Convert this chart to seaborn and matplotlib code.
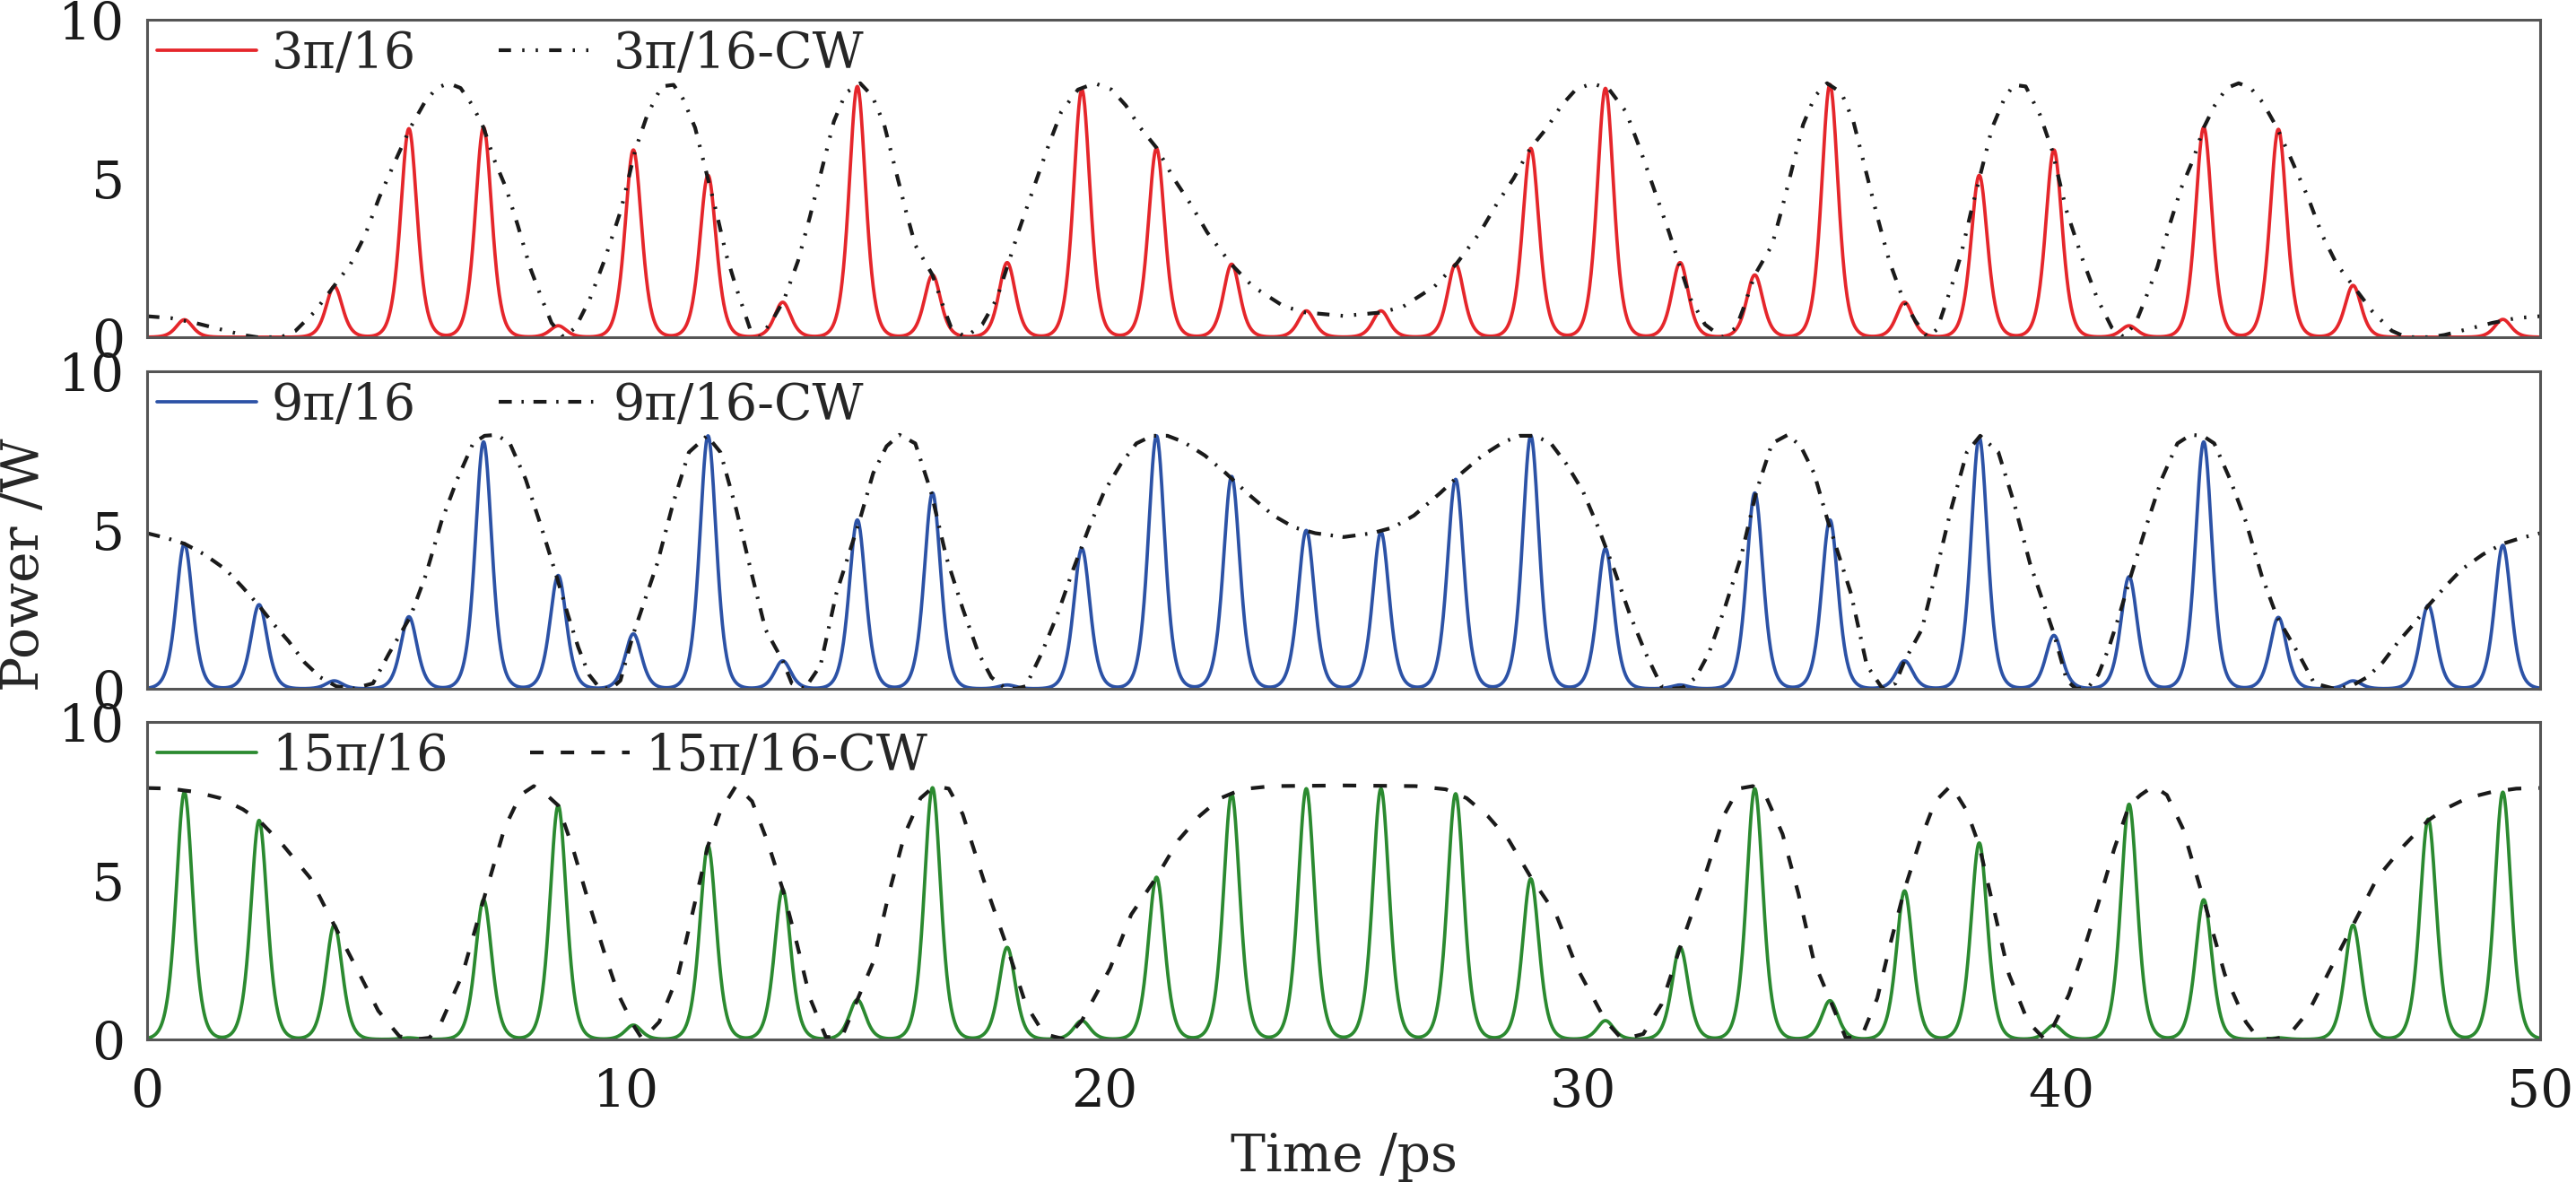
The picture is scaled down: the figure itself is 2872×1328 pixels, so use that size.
import numpy as np
import matplotlib
matplotlib.use("Agg")
import matplotlib.pyplot as plt
import seaborn as sns

# pulse centres (ps), the same for the three traces
pulse_t = [0.78, 2.34, 3.91, 5.47, 7.03, 8.59, 10.16, 11.72, 13.28, 14.84,
           16.41, 17.97, 19.53, 21.09, 22.66, 24.22, 25.78, 27.34, 28.91, 30.47,
           32.03, 33.59, 35.16, 36.72, 38.28, 39.84, 41.41, 42.97, 44.53, 46.09,
           47.66, 49.22]

# peak power of each pulse (W)
peaks_3 = [0.55, 0.0, 1.6, 6.57, 6.61, 0.36, 5.9, 5.1, 1.1, 7.9,
           1.96, 2.35, 7.8, 5.95, 2.3, 0.83, 0.83, 2.3, 5.95, 7.84,
           2.35, 1.96, 7.96, 1.1, 5.1, 5.9, 0.36, 6.61, 6.55, 1.63,
           0.0, 0.56]
peaks_9 = [4.57, 2.65, 0.25, 2.27, 7.78, 3.57, 1.73, 7.97, 0.88, 5.32,
           6.17, 0.12, 4.42, 7.97, 6.69, 4.99, 4.94, 6.6, 7.97, 4.42,
           0.12, 6.17, 5.32, 0.88, 7.92, 1.68, 3.53, 7.78, 2.25, 0.25,
           2.63, 4.52]
peaks_15 = [7.79, 6.9, 3.6, 0.05, 4.4, 7.37, 0.45, 6.1, 4.73, 1.25,
            7.93, 2.9, 0.59, 5.11, 7.74, 7.9, 7.9, 7.74, 5.06, 0.59,
            2.9, 7.9, 1.22, 4.68, 6.19, 0.45, 7.41, 4.4, 0.05, 3.6,
            6.94, 7.79]

# CW envelopes, points
cw3_t = [0, 0.5, 1.0, 1.5, 2.0, 2.3, 2.8, 3.1, 3.5, 3.9,
         4.25, 4.55, 4.85, 5.2, 5.5, 5.8, 6.05, 6.3, 6.55, 6.8,
         7.03, 7.25, 7.5, 7.75, 8.0, 8.25, 8.45, 8.7, 8.95, 9.25,
         9.55, 9.9, 10.2, 10.45, 10.75, 11.0, 11.2, 11.45, 11.7, 11.9,
         12.1, 12.3, 12.6, 12.8, 13.05, 13.3, 13.6, 13.85, 14.1, 14.35,
         14.6, 14.9, 15.15, 15.4, 15.6, 15.85, 16.05, 16.41, 16.65, 16.8,
         17.1, 17.45, 17.75, 18.0, 18.2, 18.5, 18.8, 19.1, 19.45, 19.8,
         20.15, 20.45, 20.75, 21.1, 21.45, 21.8, 22.15, 22.65, 23.1, 23.75,
         24.2, 25.0,
         25.8, 26.25, 26.9, 27.35, 27.85, 28.2, 28.55, 28.9, 29.25, 29.55,
         29.85, 30.2, 30.55, 30.9, 31.2, 31.5, 31.8, 32.0, 32.25, 32.55,
         32.9, 33.2, 33.35, 33.59, 33.95, 34.15, 34.4, 34.6, 34.85, 35.1,
         35.4, 35.65, 35.9, 36.15, 36.4, 36.7, 36.95, 37.2, 37.4, 37.7,
         37.9, 38.1, 38.3, 38.55, 38.8, 39.0, 39.25, 39.55, 39.8, 40.1,
         40.45, 40.75, 41.05, 41.3, 41.55, 41.75, 42.0, 42.25, 42.5, 42.75,
         42.97, 43.2, 43.45, 43.7, 43.95, 44.2, 44.5, 44.8, 45.15, 45.45,
         45.75, 46.1, 46.5, 46.9, 47.2, 47.7, 48.0, 48.5, 49.0, 49.5, 50]
cw3_p = [0.66, 0.6, 0.45, 0.26, 0.07, 0.0, 0.0, 0.2, 0.8, 1.6,
         2.3, 3.2, 4.4, 5.6, 6.6, 7.4, 7.85, 8.0, 7.85, 7.3,
         6.6, 5.6, 4.7, 3.5, 2.2, 1.2, 0.45, 0.0, 0.3, 1.2,
         2.4, 4.0, 5.9, 7.0, 7.9, 7.95, 7.5, 6.6, 5.1, 3.9,
         2.6, 1.6, 0.25, 0.0, 0.5, 1.15, 2.4, 3.8, 5.3, 6.8,
         7.7, 8.0, 7.6, 6.7, 5.5, 4.0, 2.9, 1.96, 0.9, 0.3,
         0.0, 0.4, 1.2, 2.35, 3.3, 4.6, 5.9, 7.1, 7.8, 8.0,
         7.8, 7.3, 6.6, 5.95, 5.0, 4.2, 3.3, 2.3, 1.6, 0.97,
         0.78, 0.67,
         0.78, 0.97, 1.6, 2.3, 3.3, 4.2, 5.0, 5.95, 6.6, 7.3,
         7.8, 8.0, 7.8, 7.1, 5.9, 4.6, 3.3, 2.35, 1.2, 0.4,
         0.0, 0.3, 0.9, 1.96, 2.9, 4.0, 5.5, 6.7, 7.6, 8.0,
         7.7, 6.8, 5.3, 3.8, 2.4, 1.15, 0.5, 0.0, 0.25, 1.6,
         2.6, 3.9, 5.1, 6.6, 7.5, 7.95, 7.9, 7.0, 5.9, 4.0,
         2.4, 1.2, 0.3, 0.0, 0.45, 1.2, 2.2, 3.5, 4.7, 5.6,
         6.6, 7.3, 7.85, 8.0, 7.85, 7.4, 6.6, 5.6, 4.4, 3.2,
         2.3, 1.6, 0.8, 0.2, 0.0, 0.0, 0.07, 0.26, 0.45, 0.6, 0.66]

cw9_t = [0, 0.4, 0.78, 1.2, 1.64, 1.97, 2.32, 2.63, 2.96, 3.29,
         3.62, 3.95, 4.3, 4.72, 5.05, 5.5, 5.82, 6.15, 6.48, 6.81,
         7.05, 7.3, 7.58, 7.91, 8.24, 8.55, 8.79, 9.01, 9.23, 9.45,
         9.7, 9.89, 10.16, 10.66, 10.99, 11.32, 11.7, 11.98, 12.31, 12.64,
         12.92, 13.28, 13.47, 13.74, 14.07, 14.4, 14.89, 15.17, 15.45, 15.72,
         16.05, 16.38, 16.7, 17.04, 17.37, 17.64, 17.92, 18.15, 18.36, 18.69,
         19.02, 19.35, 19.68, 20.0, 20.34, 20.67, 21.0, 21.32, 21.65, 22.1,
         22.54, 22.98, 23.53, 23.97, 24.41, 25.0,
         25.59, 26.03, 26.47, 27.02, 27.46, 27.9, 28.35, 28.68, 29.0, 29.33,
         29.66, 30.0, 30.32, 30.65, 30.98, 31.31, 31.64, 31.85, 32.08, 32.36,
         32.63, 32.96, 33.3, 33.62, 33.95, 34.28, 34.55, 34.83, 35.11, 35.6,
         35.93, 36.26, 36.53, 36.72, 37.08, 37.36, 37.69, 38.02, 38.3, 38.68,
         39.01, 39.34, 39.84, 40.11, 40.3, 40.55, 40.77, 40.99, 41.21, 41.45,
         41.76, 42.09, 42.42, 42.7, 42.95, 43.19, 43.52, 43.85, 44.18, 44.5,
         44.95, 45.28, 45.7, 46.05, 46.38, 46.71, 47.04, 47.37, 47.68, 48.03,
         48.36, 48.8, 49.22, 49.6, 50]
cw9_p = [4.9, 4.75, 4.57, 4.23, 3.76, 3.24, 2.65, 2.06, 1.49, 0.83,
         0.36, 0.08, 0.0, 0.17, 1.1, 2.27, 3.57, 5.27, 6.6, 7.73,
         7.97, 8.0, 7.73, 6.6, 5.08, 3.57, 2.34, 1.3, 0.45, 0.03,
         0.0, 0.26, 1.73, 3.95, 5.84, 7.45, 7.97, 7.45, 5.65, 3.57,
         1.87, 0.88, 0.17, 0.0, 0.74, 3.0, 5.32, 6.79, 7.64, 8.0,
         7.73, 6.2, 4.14, 2.53, 1.12, 0.36, 0.03, 0.0, 0.08, 1.12,
         2.34, 3.76, 5.08, 6.22, 7.07, 7.73, 7.97, 7.97, 7.78, 7.35,
         6.79, 6.17, 5.46, 5.08, 4.9, 4.78,
         4.9, 5.08, 5.46, 6.17, 6.79, 7.35, 7.78, 7.97, 7.97, 7.73,
         7.07, 6.22, 5.08, 3.76, 2.34, 1.12, 0.08, 0.0, 0.03, 0.36,
         1.12, 2.53, 4.14, 6.2, 7.73, 8.0, 7.64, 6.79, 5.32, 3.0,
         0.74, 0.0, 0.17, 0.88, 1.87, 3.57, 5.65, 7.45, 7.97, 7.45,
         5.84, 3.95, 1.73, 0.26, 0.0, 0.03, 0.45, 1.3, 2.34, 3.57,
         5.08, 6.6, 7.73, 8.0, 7.97, 7.73, 6.6, 5.27, 3.57, 2.27,
         1.1, 0.17, 0.0, 0.08, 0.36, 0.83, 1.49, 2.06, 2.65, 3.24,
         3.76, 4.23, 4.57, 4.75, 4.9]

cw15_t = [0, 0.5, 0.78, 1.0, 1.53, 2.0, 2.34, 2.85, 3.4, 3.91,
          4.39, 4.83, 5.27, 5.6, 5.9, 6.15, 6.59, 7.03, 7.47, 7.8,
          8.08, 8.35, 8.59, 8.9, 9.23, 9.56, 9.85, 10.16, 10.35, 10.7,
          11.1, 11.49, 11.72, 11.98, 12.31, 12.64, 12.97, 13.28, 13.58, 13.85,
          14.18, 14.51, 14.84, 15.17, 15.5, 15.83, 16.16, 16.45, 16.75, 17.04,
          17.47, 17.97, 18.36, 18.74, 19.18, 19.53, 20.12, 20.56, 21.09, 21.55,
          21.99, 22.43, 22.87, 23.5, 24.2, 25.0,
          25.8, 26.5, 27.13, 27.57, 28.01, 28.45, 28.91, 29.44, 29.88, 30.47,
          30.82, 31.26, 31.64, 32.03, 32.53, 32.96, 33.25, 33.55, 33.84, 34.17,
          34.5, 34.83, 35.16, 35.49, 35.82, 36.15, 36.42, 36.72, 37.03, 37.36,
          37.69, 38.02, 38.28, 38.51, 38.9, 39.3, 39.65, 39.84, 40.15, 40.44,
          40.77, 41.1, 41.41, 41.65, 41.92, 42.2, 42.53, 42.97, 43.41, 43.85,
          44.1, 44.4, 44.73, 45.17, 45.61, 46.09, 46.6, 47.15, 47.66, 48.0,
          48.47, 49.0, 49.22, 49.5, 50]
cw15_p = [7.92, 7.9, 7.84, 7.8, 7.6, 7.25, 6.9, 6.1, 5.1, 3.6,
          2.2, 0.9, 0.1, 0.0, 0.05, 0.55, 2.05, 4.4, 6.66, 7.7,
          7.98, 7.7, 7.37, 6.0, 4.3, 2.7, 1.4, 0.45, 0.0, 0.55,
          2.05, 4.6, 6.1, 7.2, 8.0, 7.5, 6.2, 4.73, 3.0, 1.3,
          0.08, 0.05, 1.25, 2.43, 4.6, 6.47, 7.6, 7.98, 7.9, 7.1,
          5.06, 2.9, 1.1, 0.17, 0.0, 0.59, 2.24, 3.93, 5.11, 6.28,
          7.04, 7.6, 7.88, 7.98, 7.99, 8.0,
          7.99, 7.98, 7.88, 7.6, 7.04, 6.28, 5.11, 3.93, 2.24, 0.59,
          0.0, 0.17, 1.1, 2.9, 5.06, 7.1, 7.9, 7.98, 7.6, 6.47,
          4.6, 2.43, 1.25, 0.05, 0.08, 1.3, 3.0, 4.73, 6.2, 7.5,
          8.0, 7.2, 6.1, 4.6, 2.05, 0.55, 0.0, 0.45, 1.4, 2.7,
          4.3, 6.0, 7.37, 7.7, 7.98, 7.7, 6.66, 4.4, 2.05, 0.55,
          0.05, 0.0, 0.1, 0.9, 2.2, 3.6, 5.1, 6.1, 6.9, 7.25,
          7.6, 7.8, 7.84, 7.9, 7.92]

labels = ["3π/16", "9π/16", "15π/16"]
colors = ["#e5262b", "#2c52a6", "#2b8a30"]

sns.set_style("white")
plt.rcParams["font.family"] = ["DejaVu Serif"]

t = np.linspace(0, 50, 5001)
tau = 0.23


def pulse_train(heights):
    p = np.zeros_like(t)
    for tk, h in zip(pulse_t, heights):
        p += h / np.cosh((t - tk) / tau) ** 2
    return p


panels = [
    (peaks_3, cw3_t, cw3_p, (0, (3.3, 3.0, 0.6, 3.0, 0.6, 3.0))),
    (peaks_9, cw9_t, cw9_p, (0, (3.5, 2.6, 0.6, 2.6))),
    (peaks_15, cw15_t, cw15_p, (0, (3.6, 4.6))),
]

fig = plt.figure(figsize=(14.36, 6.64), dpi=200)
bottoms = [0.7169, 0.4217, 0.1273]

for i, (peaks, cw_t, cw_p, ls) in enumerate(panels):
    ax = fig.add_axes([0.0571, bottoms[i], 0.929, 0.2665])
    sns.lineplot(x=t, y=pulse_train(peaks), ax=ax, color=colors[i],
                 lw=1.35, label=labels[i])
    sns.lineplot(x=np.array(cw_t), y=np.array(cw_p), ax=ax, color="#1a1a1a",
                 lw=1.5, linestyle=ls, label=labels[i] + "-CW")
    ax.set_xlim(0, 50)
    ax.set_ylim(0, 10)
    ax.set_xticks(range(0, 51, 10))
    ax.set_yticks([0, 5, 10])
    ax.tick_params(direction="in", length=4, width=0.8, labelsize=21,
                   pad=9, colors="#222222", labelcolor="#1a1a1a")
    ax.tick_params(axis="x", pad=11)
    if i < 2:
        ax.tick_params(labelbottom=False)
    for s in ax.spines.values():
        s.set_color("#555555")
        s.set_linewidth(1.1)
    ax.set_xlabel("")
    ax.set_ylabel("")
    ax.legend(loc="upper left", ncol=2, frameon=False, fontsize=20,
              handlelength=2.0, handletextpad=0.3, columnspacing=1.65,
              borderaxespad=0.05, borderpad=0.15)

fig.text(0.0095, 0.5256, "Power /W", rotation=90, ha="center", va="center",
         fontsize=21)
fig.text(0.5216, 0.0286, "Time /ps", ha="center", va="center", fontsize=21)

fig.savefig("out.png", dpi=200)
